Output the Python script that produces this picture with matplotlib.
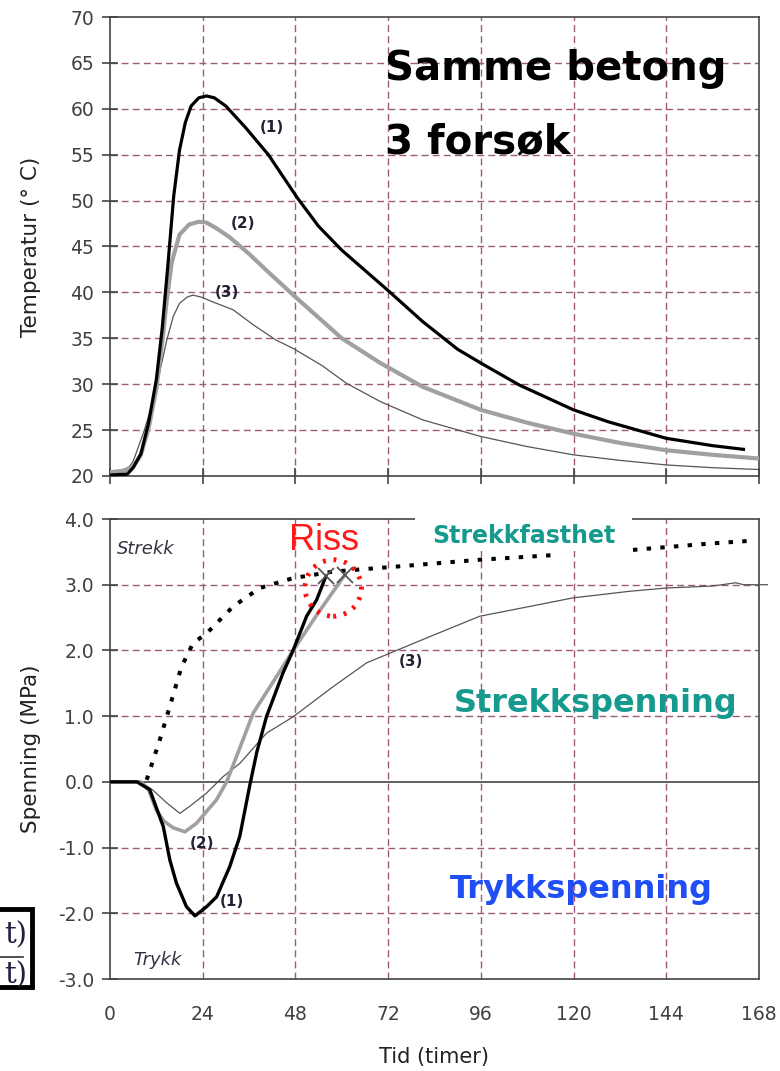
import matplotlib
matplotlib.use("Agg")
import matplotlib.pyplot as plt
from matplotlib.patches import Ellipse, Rectangle
from matplotlib.lines import Line2D
import numpy as np

plt.rcParams['font.family'] = ['DejaVu Sans']
plt.rcParams['axes.unicode_minus'] = False

# --- temperature (top panel), time in hours ---
t1_h = [0, 4.5, 6, 8, 10, 12, 13.5, 15, 16.5, 18, 19.5, 21, 23, 25, 27, 30, 35, 41, 48.5,
        54, 60, 66, 72, 81, 90, 96, 106, 120, 129, 144, 156, 164]
t1_T = [20.1, 20.2, 20.9, 22.4, 25.8, 30.5, 36, 43, 50.5, 55.5, 58.5, 60.3, 61.2, 61.4, 61.2,
        60.3, 58.0, 55, 50.3, 47.2, 44.6, 42.4, 40.2, 36.8, 33.8, 32.3, 29.9, 27.2, 25.9, 24.1,
        23.3, 22.9]

t2_h = [0, 4, 6, 8, 10, 12, 13.5, 14.8, 16, 18, 20.5, 23, 25, 27.5, 31, 36, 40.5, 48, 60,
        70, 81, 96, 108, 120, 132, 144, 156, 168]
t2_T = [20.4, 20.6, 21.0, 22.3, 25.2, 29.5, 34.5, 39.5, 43.3, 46.3, 47.4, 47.7, 47.6, 47, 46,
        44.2, 42.4, 39.5, 35, 32.3, 29.7, 27.2, 25.8, 24.6, 23.6, 22.8, 22.3, 21.9]

t3_h = [0, 3, 5, 6, 8.6, 10.5, 12.1, 13.5, 14.7, 16.4, 18, 20, 21.5, 23.5, 27, 31.9, 37, 43,
        47.4, 55, 61.2, 70, 81, 96, 108, 120, 132, 144, 156, 168]
t3_T = [20.5, 20.6, 21.0, 21.6, 24.6, 27.2, 29.8, 32.5, 34.8, 37.4, 38.8, 39.5, 39.7, 39.5,
        38.9, 38.1, 36.5, 34.8, 33.9, 32, 30.1, 28.1, 26.1, 24.3, 23.2, 22.3, 21.7, 21.2, 20.9,
        20.7]

# --- stress (bottom panel) ---
s1_h = [0, 7, 10.3, 13.8, 15.5, 17.2, 19.8, 22, 25, 27.6, 31, 33.6, 36.2, 38, 40.5, 44.8,
        47.4, 50.9, 53.5, 55.9]
s1_S = [0, 0, -0.12, -0.68, -1.19, -1.54, -1.9, -2.04, -1.9, -1.75, -1.29, -0.83, -0.05, 0.45,
        0.99, 1.66, 2.0, 2.52, 2.77, 3.13]

s2_h = [0, 8, 10, 12, 14, 16.4, 19.4, 22.4, 25, 27.6, 30.2, 33.5, 37.1, 42, 47.4, 54, 60.8]
s2_S = [0, 0, -0.12, -0.43, -0.6, -0.7, -0.76, -0.63, -0.45, -0.27, 0, 0.5, 1.05, 1.5, 2.0,
        2.58, 3.15]

s3_h = [0, 8, 11, 14.7, 18.1, 20.7, 25, 29.3, 33.6, 40.5, 47.4, 57.8, 66.4, 75, 82.8, 95.7,
        108.7, 119.9, 134.5, 144, 156, 162, 164, 170.2]
s3_S = [0, 0, -0.12, -0.32, -0.48, -0.37, -0.17, 0.08, 0.28, 0.74, 0.99, 1.45, 1.81, 2.02,
        2.21, 2.52, 2.67, 2.8, 2.9, 2.95, 2.98, 3.03, 3.0, 3.0]

# tensile strength (dotted), gap where the label sits
fct_h = [9.5, 12.9, 15.5, 18.5, 21.5, 25, 31.9, 38.8, 47.4, 57.8, 75, 95.7, 114.7,
         np.nan, 135.4, 156, 166.4]
fct_S = [0.03, 0.64, 1.15, 1.75, 2.11, 2.26, 2.67, 2.95, 3.1, 3.2, 3.28, 3.38, 3.45,
         np.nan, 3.53, 3.63, 3.67]

crack_h = [55.9, 60.8]
crack_S = [3.13, 3.15]

x_ticks = [0, 24, 48, 72, 96, 120, 144, 168]
t_ticks = [20, 25, 30, 35, 40, 45, 50, 55, 60, 65, 70]
s_ticks = [-3, -2, -1, 0, 1, 2, 3, 4]

grid_col = '#9e5a7a'
spine_col = '#444444'
tick_col = '#404040'
teal = '#169a8e'
blue = '#1f4ef5'

fig = plt.figure(figsize=(7.8, 10.71), dpi=100)
ax1 = fig.add_axes([0.141, 0.5556, 0.832, 0.4285])
ax2 = fig.add_axes([0.141, 0.0859, 0.832, 0.4295])


def style_axes(ax):
    for s in ax.spines.values():
        s.set_color(spine_col)
        s.set_linewidth(1.2)
    ax.set_xlim(0, 168)
    ax.set_xticks(x_ticks)
    ax.tick_params(axis='y', direction='inout', length=11, width=1.2, color=spine_col,
                   labelsize=13.5, labelcolor=tick_col, pad=6)
    for xv in x_ticks[1:-1]:
        ax.axvline(xv, color=grid_col, lw=1, ls=(0, (5, 3)), zorder=1)


# ---------- top panel ----------
style_axes(ax1)
ax1.set_ylim(20, 70)
ax1.set_yticks(t_ticks)
ax1.tick_params(axis='x', direction='inout', length=12, width=1.2, color=spine_col,
                labelbottom=False)
for yv in t_ticks[1:-1]:
    ax1.axhline(yv, color=grid_col, lw=1, ls=(0, (5, 3)), zorder=1)

ax1.plot(t3_h, t3_T, color='#555555', lw=0.9, zorder=3)
ax1.plot(t2_h, t2_T, color='#a0a0a0', lw=3.0, zorder=4)
ax1.plot(t1_h, t1_T, color='black', lw=2.3, zorder=5)

ax1.text(42, 58.0, '(1)', fontsize=11, fontweight='bold', color='#222233', ha='center', va='center')
ax1.text(34.5, 47.5, '(2)', fontsize=11, fontweight='bold', color='#222233', ha='center', va='center')
ax1.text(30.2, 40.0, '(3)', fontsize=11, fontweight='bold', color='#222233', ha='center', va='center')

ax1.text(71.2, 63.1, 'Samme betong', fontsize=29, fontweight='bold', color='black',
         ha='left', va='baseline', zorder=6)
ax1.text(71.2, 55.2, '3 forsøk', fontsize=29, fontweight='bold', color='black',
         ha='left', va='baseline', zorder=6)

ax1.set_ylabel('Temperatur (° C)', fontsize=15.5, color='#222222', labelpad=21)

# ---------- bottom panel ----------
style_axes(ax2)
ax2.set_ylim(-3, 4)
ax2.set_yticks(s_ticks)
ax2.set_yticklabels(['%.1f' % v for v in s_ticks])
ax2.tick_params(axis='x', length=0, labelsize=13.5, labelcolor=tick_col, pad=19)
for yv in [-2, -1, 1, 2, 3]:
    ax2.axhline(yv, color=grid_col, lw=1, ls=(0, (5, 3)), zorder=1)
ax2.axhline(0, color=spine_col, lw=1.2, zorder=2)

ax2.plot(fct_h, fct_S, color='black', lw=2.9, ls=(0, (1.1, 2.3)), zorder=4)
ax2.plot(s3_h, s3_S, color='#555555', lw=0.9, zorder=3, clip_on=False)
ax2.plot(s2_h, s2_S, color='#a0a0a0', lw=2.6, zorder=4)
ax2.plot(s1_h, s1_S, color='black', lw=2.4, zorder=5)
ax2.plot(crack_h, crack_S, ls='none', marker='x', ms=11, mew=1.3, color='#555555', zorder=6)

ax2.add_patch(Ellipse((57.8, 2.95), 14.6, 0.86, fill=False, edgecolor='#ff1010',
                      lw=3.5, ls=(0, (0.6, 1.6)), zorder=7))
ax2.text(55.4, 3.67, 'Riss', fontsize=26, color='#ff1a1a', ha='center', va='center',
         family='Liberation Sans', zorder=7)

# white patch behind the label breaks the top frame
ax2.add_patch(Rectangle((78.9, 3.52), 56.2, 0.65, facecolor='white', edgecolor='none',
                        clip_on=False, zorder=3))
ax2.text(107.1, 3.63, 'Strekkfasthet', fontsize=17, fontweight='bold', color=teal,
         ha='center', va='baseline', zorder=8)
ax2.text(125.6, 1.07, 'Strekkspenning', fontsize=23, fontweight='bold', color=teal,
         ha='center', va='baseline', zorder=8)
ax2.text(122, -1.77, 'Trykkspenning', fontsize=23, fontweight='bold', color=blue,
         ha='center', va='baseline', zorder=8)

ax2.text(1.8, 3.46, 'Strekk', fontsize=13, style='italic', color='#333344',
         ha='left', va='baseline')
ax2.text(6.0, -2.79, 'Trykk', fontsize=13, style='italic', color='#333344',
         ha='left', va='baseline')

ax2.text(78, 1.83, '(3)', fontsize=11, fontweight='bold', color='#222233', ha='center', va='center')
ax2.text(23.7, -0.94, '(2)', fontsize=11, fontweight='bold', color='#222233', ha='center', va='center')
ax2.text(31.5, -1.82, '(1)', fontsize=11, fontweight='bold', color='#222233', ha='center', va='center')

ax2.set_ylabel('Spenning (MPa)', fontsize=15.5, color='#222222', labelpad=12)
ax2.set_xlabel('Tid (timer)', fontsize=15, color='#222222', labelpad=16)

# cropped formula box at the left edge
fig.patches.append(Rectangle((-0.02, 0.0784), 0.061, 0.0729, transform=fig.transFigure,
                             fill=False, edgecolor='black', lw=3.5))
fig.text(0.0346, 0.127, 't)', fontsize=21, family='DejaVu Serif', color='#202040',
         ha='right', va='center')
fig.text(0.0346, 0.0896, 't)', fontsize=21, family='DejaVu Serif', color='#202040',
         ha='right', va='center')
fig.lines.append(Line2D([0.0, 0.0295], [0.1064, 0.1064], transform=fig.transFigure,
                        color='#333333', lw=1.2))

fig.savefig('out.png', dpi=100)
